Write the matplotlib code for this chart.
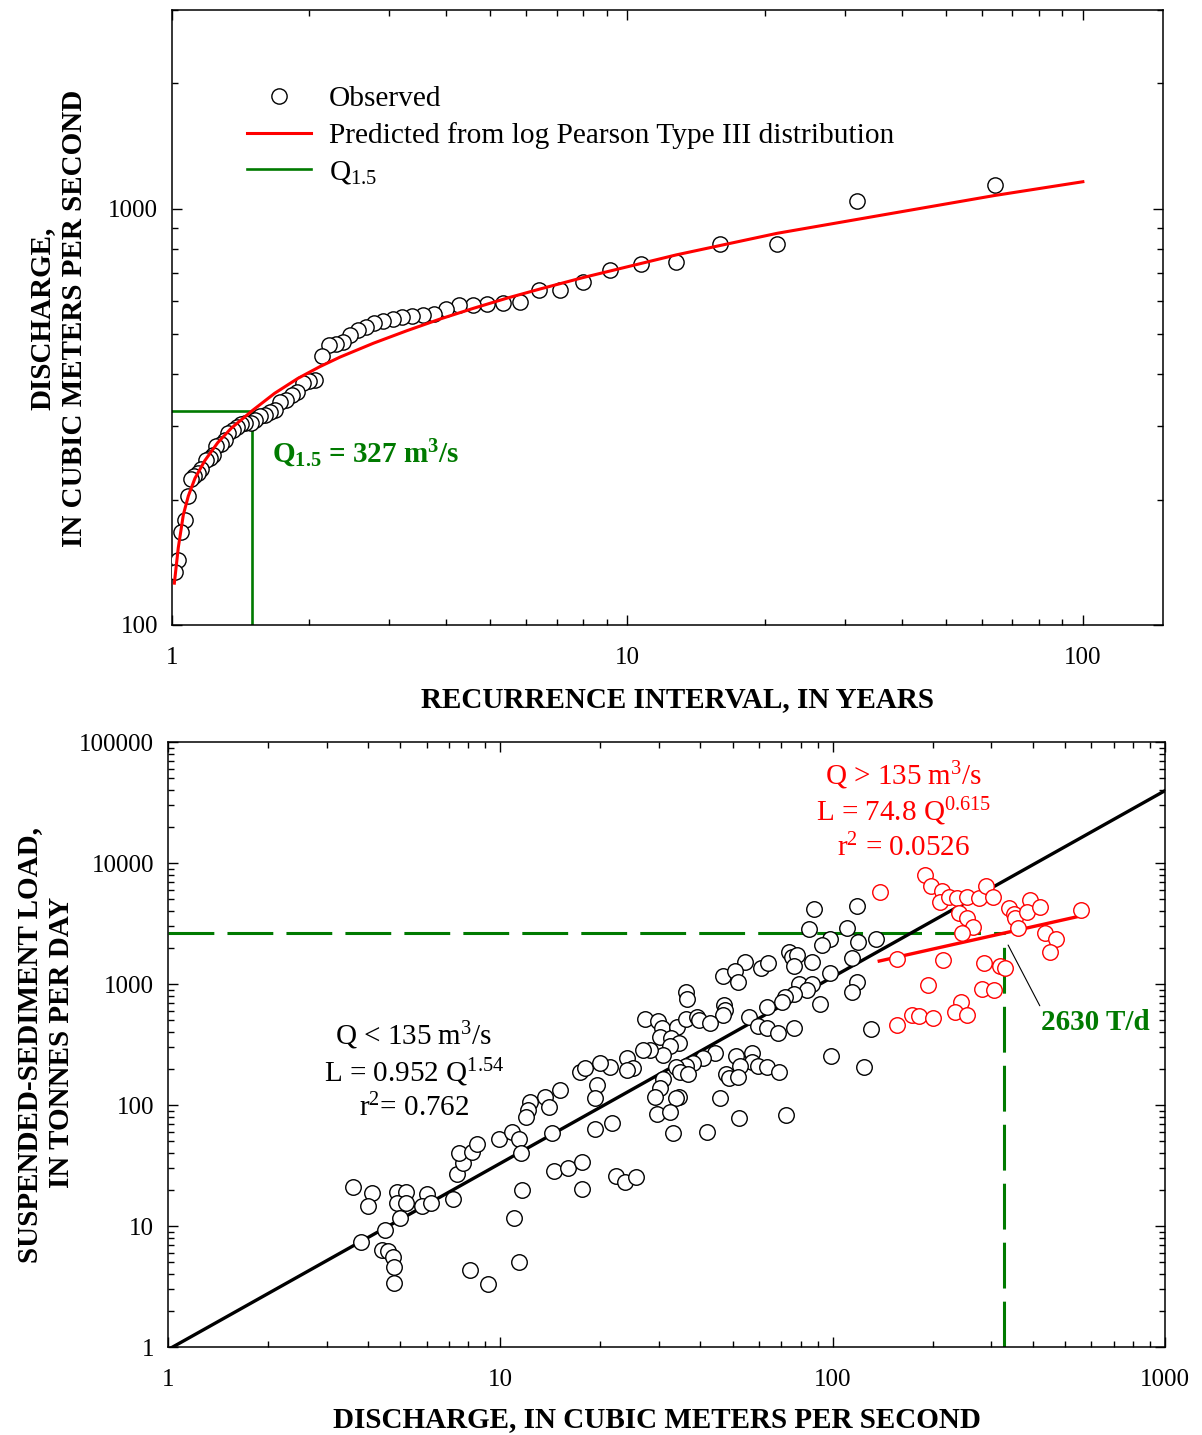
import numpy as np
import matplotlib
matplotlib.use("Agg")
import matplotlib.pyplot as plt
from matplotlib.lines import Line2D
from matplotlib.ticker import LogLocator, NullFormatter, FixedLocator

plt.rcParams['font.family'] = ['Liberation Serif', 'DejaVu Serif']
plt.rcParams['mathtext.fontset'] = 'custom'
plt.rcParams['mathtext.rm'] = 'Liberation Serif'
plt.rcParams['mathtext.it'] = 'Liberation Serif:italic'
plt.rcParams['mathtext.bf'] = 'Liberation Serif:bold'

GREEN = '#007a00'
RED = '#ff0000'

# --- top panel: annual peaks, ranked (recurrence interval, years / discharge, m3/s)
obs_T = [64.0, 32.0, 21.3, 16.0, 12.8, 10.7, 9.14, 8.0, 7.11, 6.4, 5.82, 5.33, 4.92,
         4.57, 4.27, 4.0, 3.76, 3.56, 3.37, 3.2, 3.05, 2.91, 2.78, 2.67, 2.56, 2.46,
         2.37, 2.29, 2.21, 2.13, 2.06, 2.0, 1.94, 1.88, 1.83, 1.78, 1.73, 1.68, 1.64,
         1.6, 1.56, 1.52, 1.49, 1.45, 1.42, 1.39, 1.36, 1.33, 1.31, 1.28, 1.25, 1.23,
         1.21, 1.19, 1.16, 1.14, 1.12, 1.10, 1.085, 1.067, 1.049, 1.032, 1.016]
obs_Q = [1138, 1045, 824, 822, 745, 738, 711, 665, 637, 636, 598, 594, 591,
         588, 587, 574, 559, 556, 553, 548, 543, 537, 531, 520, 510, 498,
         477, 473, 471, 443, 388, 385, 381, 363, 356, 346, 343, 329, 325,
         320, 317, 311, 306, 305, 303, 299, 294, 289, 278, 272, 269, 256,
         252, 249, 237, 232, 228, 224, 204, 179, 167, 143, 134]

pred_T = [1.012, 1.032, 1.059, 1.086, 1.123, 1.18, 1.26, 1.35, 1.5, 1.68, 1.89, 2.11,
          2.34, 2.77, 3.28, 3.88, 4.59, 5.43, 6.43, 8.0, 12.8, 21.3, 63.7, 100]
pred_Q = [126, 153, 184, 204, 225, 248, 274, 297, 327, 360, 391, 417,
          440, 475, 509, 543, 576, 609, 641, 683, 774, 872, 1074, 1160]

T15 = 1.5
Q15 = 327

# --- bottom panel: daily discharge (m3/s) vs suspended-sediment load (t/d)
low_Q = [3.6, 4.1, 4.0, 4.9, 5.2, 4.9, 5.2, 6.0, 5.8, 6.2, 7.2, 5.0, 4.5, 3.8, 4.4, 4.6,
         4.75, 4.8, 4.8, 8.1, 9.2, 7.4, 7.7, 7.5, 8.2, 8.5, 9.9, 10.8, 11.4, 11.5, 11.6,
         11.0, 11.4, 14.3, 14.5, 17.4, 18.0, 19.5, 19.3, 15.1, 13.6, 14.0, 12.3, 12.1,
         11.9, 19.2, 16.0, 17.6, 17.6, 22.2, 23.7, 25.5,
         85, 98, 92.7, 73.6, 75.4, 78, 86.9, 76.6, 54.5, 60.9, 64, 46.7, 50.9, 52, 98.4,
         78.9, 86.5, 83.7, 76.7, 71.9, 70.3, 63.3, 91.6, 36.3, 36.5, 47.1, 47.5, 46.9,
         56, 59.4, 63.4, 68.3, 76.7, 27.2, 29.8, 30.6, 34.1, 36.2, 39.0, 39.6, 42.8,
         30.2, 32.7, 34.4, 32.4, 30.9, 28.2, 26.8, 44.1, 40.8, 38.1, 36.2, 33.7, 34.7,
         36.6, 51.2, 57.1, 57.1, 52.6, 59.5, 63.3, 68.8, 47.7, 48.9, 51.7, 98.9, 24.0,
         25.1, 24.0, 21.4, 30.8, 30.2, 29.2, 34.5, 33.7, 45.7, 29.5, 32.4, 52.3, 72.3,
         21.6, 33.0, 41.8, 20.0,
         118, 88, 110, 119, 135, 114.5, 118, 114, 130, 124]
low_L = [21, 18.6, 14.7, 19.2, 19.0, 15.6, 15.4, 18.4, 14.7, 15.4, 16.7, 11.6, 9.2, 7.4,
         6.3, 6.2, 5.5, 4.6, 3.4, 4.3, 3.3, 26.9, 33.3, 39.9, 41, 47.6, 52, 60, 52, 40,
         20, 11.7, 5.0, 59, 28.5, 189, 201, 146, 114, 133, 117, 97, 106, 91, 80, 63, 30,
         33.6, 20.4, 25.9, 23.2, 25.3,
         2830, 2340, 2100, 1830, 1680, 1730, 1530, 1410, 1530, 1350, 1480, 1170, 1270,
         1045, 1240, 1000, 1000, 892, 827, 777, 714, 650, 680, 863, 752, 670, 610, 552,
         537, 450, 436, 392, 436, 514, 497, 436, 444, 514, 537, 504, 479, 366, 355, 327,
         306, 259, 285, 285, 271, 247, 223, 212, 208, 189, 180, 254, 271, 228, 212, 212,
         208, 189, 181, 166, 171, 254, 243, 201, 195, 208, 163, 137, 117, 117, 114, 114,
         84, 88, 78.6, 82.5, 70.6, 59, 59.6, 221,
         4400, 4150, 2880, 2240, 2340, 1630, 1030, 863, 423, 208]

high_Q = [139, 190, 198, 213, 210, 223, 237, 254, 275, 290, 304, 239, 254, 265, 245, 340,
          350, 354, 391, 383, 421, 559, 362, 436, 470, 449, 156, 215, 286, 318, 330, 194,
          281, 305, 244, 233, 254, 173, 182, 200, 156]
high_L = [5790, 7940, 6450, 5900, 4780, 5260, 5100, 5260, 5100, 6450, 5260, 3880, 3490,
          2970, 2620, 4220, 3790, 3530, 4940, 3910, 4350, 4090, 2880, 2650, 2350, 1850,
          1610, 1580, 1500, 1410, 1350, 990, 904, 892, 706, 584, 553, 553, 546, 521, 459]

# regression lines L = a Q^b
low_a, low_b = 0.952, 1.54
high_a, high_b = 74.8, 0.615
high_range = [138, 545]
Q_at_Q15 = 327
L_at_Q15 = 2630

fig = plt.figure(figsize=(12.02, 14.35), dpi=100)

# ---------------- top panel
ax1 = fig.add_axes([0.1431, 0.5645, 0.8245, 0.4286])
ax1.set_xscale('log')
ax1.set_yscale('log')
ax1.set_xlim(1, 150)
ax1.set_ylim(100, 3000)

ax1.plot([1, T15], [Q15, Q15], color=GREEN, lw=1.9, zorder=2)
ax1.plot([T15, T15], [100, Q15], color=GREEN, lw=1.9, zorder=2)
ax1.plot(obs_T, obs_Q, ls='none', marker='o', ms=11, mfc='white', mec='black',
         mew=1.0, zorder=3)
ax1.plot(pred_T, pred_Q, color=RED, lw=2.2, zorder=4)

ax1.text(0.1009, 0.263, r'Q$_\mathbf{1.5}$ = 327 m$^\mathbf{3}$/s', transform=ax1.transAxes,
         fontsize=21, fontweight='bold', color=GREEN, va='baseline', ha='left')

handles = [
    Line2D([], [], ls='none', marker='o', ms=11, mfc='white', mec='black', mew=1.0),
    Line2D([], [], color=RED, lw=2.2),
    Line2D([], [], color=GREEN, lw=1.9),
]
labels = ['Observed', 'Predicted from log Pearson Type III distribution', r'Q$_{1.5}$']
ax1.legend(handles, labels, loc='upper left', bbox_to_anchor=(0.0757, 0.877),
           frameon=False, fontsize=21.2, handlelength=2.18, handletextpad=0.6,
           labelspacing=0.33, borderpad=0, borderaxespad=0)

ax1.xaxis.set_major_locator(FixedLocator([1, 10, 100]))
ax1.set_xticklabels(['1', '10', '100'])
ax1.yaxis.set_major_locator(FixedLocator([100, 1000]))
ax1.set_yticklabels(['100', '1000'])

# ---------------- bottom panel
ax2 = fig.add_axes([0.1398, 0.0613, 0.8295, 0.4216])
ax2.set_xscale('log')
ax2.set_yscale('log')
ax2.set_xlim(1, 1000)
ax2.set_ylim(1, 100000)

qq = np.array([1, 1000])
ax2.plot(qq, low_a * qq ** low_b, color='black', lw=2.4, zorder=3)
qh = np.array(high_range)
ax2.plot(qh, high_a * qh ** high_b, color=RED, lw=2.4, zorder=4)

ax2.plot([1, Q_at_Q15], [L_at_Q15, L_at_Q15], color=GREEN, lw=2.2,
         dashes=(15, 4.3), zorder=2)
ax2.plot([Q_at_Q15, Q_at_Q15], [1, L_at_Q15], color=GREEN, lw=2.2,
         dashes=(15, 4.3), zorder=2)

ax2.scatter(low_Q, low_L, s=125, facecolors='white', edgecolors='black',
            linewidths=1.0, zorder=5)
ax2.scatter(high_Q, high_L, s=125, facecolors='white', edgecolors=RED,
            linewidths=1.0, zorder=5)

ax2.annotate('2630 T/d', xy=(337, 2100), xytext=(424, 485), fontsize=21,
             fontweight='bold', color=GREEN, ha='left', va='center',
             arrowprops=dict(arrowstyle='-', color='black', lw=0.8,
                             shrinkA=0, shrinkB=0, relpos=(0, 1)))

kw = dict(transform=ax2.transAxes, fontsize=21, ha='center', va='baseline')
ax2.text(0.2467, 0.4992, r'Q < 135 m$^3$/s', **kw)
ax2.text(0.2467, 0.4385, r'L = 0.952 Q$^{1.54}$', **kw)
ax2.text(0.2467, 0.3807, r'r$^2$= 0.762', **kw)
ax2.text(0.738, 0.930, r'Q > 135 m$^3$/s', color=RED, **kw)
ax2.text(0.738, 0.869, r'L = 74.8 Q$^{0.615}$', color=RED, **kw)
ax2.text(0.738, 0.8116, r'r$^2$ = 0.0526', color=RED, **kw)

ax2.xaxis.set_major_locator(FixedLocator([1, 10, 100, 1000]))
ax2.set_xticklabels(['1', '10', '100', '1000'])
ax2.yaxis.set_major_locator(FixedLocator([1, 10, 100, 1000, 10000, 100000]))
ax2.set_yticklabels(['1', '10', '100', '1000', '10000', '100000'])

for ax in (ax1, ax2):
    ax.xaxis.set_minor_locator(LogLocator(base=10, subs=np.arange(2, 10), numticks=20))
    ax.yaxis.set_minor_locator(LogLocator(base=10, subs=np.arange(2, 10), numticks=20))
    ax.xaxis.set_minor_formatter(NullFormatter())
    ax.yaxis.set_minor_formatter(NullFormatter())
    ax.tick_params(which='both', direction='in', top=True, right=True,
                   labelsize=18, width=1.0)
    ax.tick_params(which='major', length=7)
    ax.tick_params(which='minor', length=4.5)
    ax.tick_params(axis='y', which='major', pad=10)
    ax.tick_params(axis='x', which='major', pad=16)
    for s in ax.spines.values():
        s.set_linewidth(1.1)

lab = dict(fontsize=21, fontweight='bold', ha='center', va='center')
fig.text(0.564, 1 - 700 / 1435, 'RECURRENCE INTERVAL, IN YEARS', **lab)
fig.text(0.5466, 1 - 1420 / 1435, 'DISCHARGE, IN CUBIC METERS PER SECOND', **lab)
fig.text(42 / 1202, 1 - 318 / 1435, 'DISCHARGE,', rotation=90, **lab)
fig.text(75 / 1202, 1 - 318 / 1435, 'IN CUBIC METERS PER SECOND', rotation=90, **lab)
fig.text(30 / 1202, 1 - 1045 / 1435, 'SUSPENDED-SEDIMENT LOAD,', rotation=90, **lab)
fig.text(62 / 1202, 1 - 1042 / 1435, 'IN TONNES PER DAY', rotation=90, **lab)

fig.savefig('out.png', dpi=100)
